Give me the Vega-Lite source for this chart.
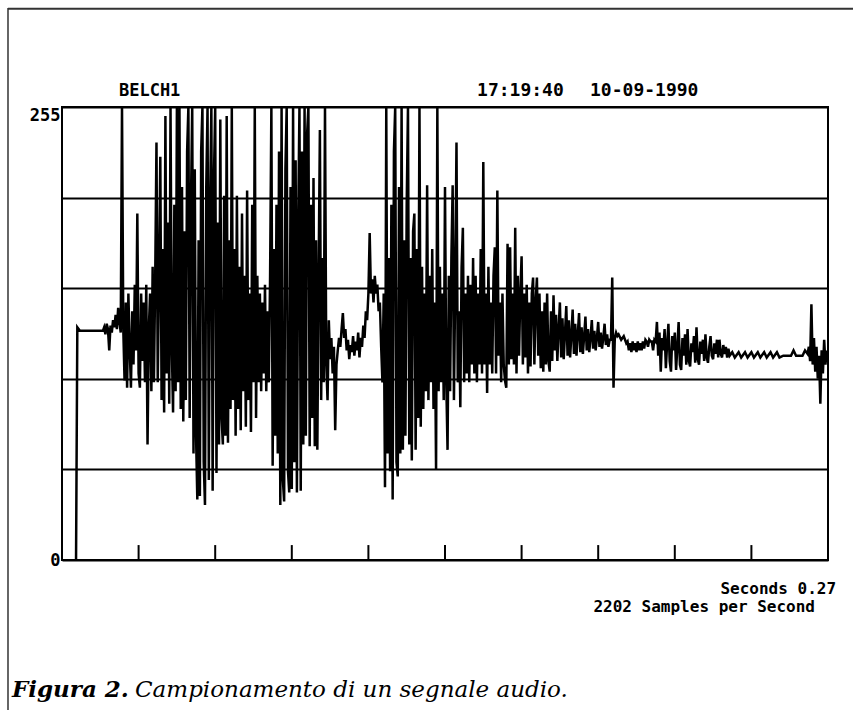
{
  "$schema": "https://vega.github.io/schema/vega-lite/v6.json",
  "width": 766,
  "height": 453,
  "autosize": {"type": "none"},
  "padding": {"left": 62, "top": 107, "right": 25, "bottom": 150},
  "background": "white",
  "config": {"view": {"stroke": "black", "strokeWidth": 2}},
  "datasets": {
    "one": [{}],
    "ticks": [{"t":60},{"t":120},{"t":180},{"t":240},{"t":300},{"t":360},{"t":420},{"t":480},{"t":540}],
    "wave": [
{"s":11,"v":0},{"s":12,"v":131},{"s":13,"v":130},{"s":14,"v":129},{"s":32,"v":129},{"s":33,"v":131},{"s":34,"v":127},{"s":35,"v":133},{"s":36,"v":130},{"s":37,"v":118},{"s":38,"v":132},{"s":39,"v":128},{"s":40,"v":135},{"s":41,"v":131},{"s":42,"v":138},{"s":43,"v":130},{"s":44,"v":142},{"s":45,"v":134},{"s":46,"v":128},{"s":47,"v":255},{"s":48,"v":130},{"s":49,"v":101},{"s":50,"v":145},{"s":51,"v":97},{"s":52,"v":150},{"s":53,"v":120},{"s":54,"v":97},{"s":55,"v":140},{"s":56,"v":110},{"s":57,"v":155},{"s":58,"v":118},{"s":59,"v":195},{"s":60,"v":105},{"s":61,"v":97},{"s":62,"v":150},{"s":63,"v":112},{"s":64,"v":145},{"s":65,"v":100},{"s":66,"v":155},{"s":67,"v":65},{"s":68,"v":130},{"s":69,"v":150},{"s":70,"v":95},{"s":71,"v":165},{"s":72,"v":100},{"s":73,"v":158},{"s":74,"v":235},{"s":75,"v":100},{"s":76,"v":160},{"s":77,"v":227},{"s":78,"v":90},{"s":79,"v":175},{"s":80,"v":83},{"s":81,"v":250},{"s":82,"v":105},{"s":83,"v":190},{"s":84,"v":88},{"s":85,"v":255},{"s":86,"v":120},{"s":87,"v":83},{"s":88,"v":200},{"s":89,"v":95},{"s":90,"v":255},{"s":91,"v":100},{"s":92,"v":255},{"s":93,"v":85},{"s":94,"v":210},{"s":95,"v":78},{"s":96,"v":185},{"s":97,"v":90},{"s":98,"v":230},{"s":99,"v":255},{"s":100,"v":80},{"s":101,"v":200},{"s":102,"v":255},{"s":103,"v":60},{"s":104,"v":220},{"s":105,"v":70},{"s":106,"v":34},{"s":107,"v":180},{"s":108,"v":36},{"s":109,"v":230},{"s":110,"v":255},{"s":111,"v":55},{"s":112,"v":31},{"s":113,"v":210},{"s":114,"v":255},{"s":115,"v":45},{"s":116,"v":200},{"s":117,"v":255},{"s":118,"v":39},{"s":119,"v":215},{"s":120,"v":255},{"s":121,"v":49},{"s":122,"v":190},{"s":123,"v":65},{"s":124,"v":248},{"s":125,"v":80},{"s":126,"v":65},{"s":127,"v":205},{"s":128,"v":70},{"s":129,"v":250},{"s":130,"v":66},{"s":131,"v":180},{"s":132,"v":85},{"s":133,"v":255},{"s":134,"v":90},{"s":135,"v":175},{"s":136,"v":70},{"s":137,"v":205},{"s":138,"v":85},{"s":139,"v":165},{"s":140,"v":73},{"s":141,"v":195},{"s":142,"v":95},{"s":143,"v":160},{"s":144,"v":75},{"s":145,"v":208},{"s":146,"v":90},{"s":147,"v":150},{"s":148,"v":72},{"s":149,"v":200},{"s":150,"v":100},{"s":151,"v":255},{"s":152,"v":80},{"s":153,"v":160},{"s":154,"v":100},{"s":155,"v":150},{"s":156,"v":95},{"s":157,"v":145},{"s":158,"v":105},{"s":159,"v":155},{"s":160,"v":95},{"s":161,"v":140},{"s":162,"v":100},{"s":163,"v":160},{"s":164,"v":255},{"s":165,"v":53},{"s":166,"v":175},{"s":167,"v":70},{"s":168,"v":200},{"s":169,"v":60},{"s":170,"v":230},{"s":171,"v":31},{"s":172,"v":255},{"s":173,"v":45},{"s":174,"v":33},{"s":175,"v":220},{"s":176,"v":255},{"s":177,"v":50},{"s":178,"v":38},{"s":179,"v":210},{"s":180,"v":40},{"s":181,"v":255},{"s":182,"v":55},{"s":183,"v":225},{"s":184,"v":38},{"s":185,"v":190},{"s":186,"v":255},{"s":187,"v":39},{"s":188,"v":230},{"s":189,"v":65},{"s":190,"v":255},{"s":191,"v":70},{"s":192,"v":240},{"s":193,"v":255},{"s":194,"v":64},{"s":195,"v":200},{"s":196,"v":80},{"s":197,"v":215},{"s":198,"v":64},{"s":199,"v":180},{"s":200,"v":62},{"s":201,"v":160},{"s":202,"v":242},{"s":203,"v":90},{"s":204,"v":170},{"s":205,"v":100},{"s":206,"v":255},{"s":207,"v":110},{"s":208,"v":90},{"s":209,"v":135},{"s":210,"v":113},{"s":211,"v":125},{"s":212,"v":105},{"s":213,"v":120},{"s":214,"v":73},{"s":215,"v":110},{"s":216,"v":118},{"s":217,"v":125},{"s":218,"v":120},{"s":219,"v":130},{"s":220,"v":139},{"s":221,"v":125},{"s":222,"v":130},{"s":223,"v":118},{"s":224,"v":124},{"s":225,"v":113},{"s":226,"v":121},{"s":227,"v":117},{"s":228,"v":126},{"s":229,"v":115},{"s":230,"v":123},{"s":231,"v":118},{"s":232,"v":128},{"s":233,"v":114},{"s":234,"v":125},{"s":235,"v":120},{"s":236,"v":132},{"s":237,"v":125},{"s":238,"v":140},{"s":239,"v":135},{"s":240,"v":150},{"s":241,"v":184},{"s":242,"v":150},{"s":243,"v":158},{"s":244,"v":145},{"s":245,"v":160},{"s":246,"v":150},{"s":247,"v":155},{"s":248,"v":140},{"s":249,"v":145},{"s":250,"v":120},{"s":251,"v":100},{"s":252,"v":150},{"s":253,"v":41},{"s":254,"v":255},{"s":255,"v":60},{"s":256,"v":170},{"s":257,"v":50},{"s":258,"v":200},{"s":259,"v":34},{"s":260,"v":230},{"s":261,"v":255},{"s":262,"v":55},{"s":263,"v":47},{"s":264,"v":210},{"s":265,"v":60},{"s":266,"v":255},{"s":267,"v":62},{"s":268,"v":180},{"s":269,"v":70},{"s":270,"v":200},{"s":271,"v":255},{"s":272,"v":65},{"s":273,"v":170},{"s":274,"v":56},{"s":275,"v":185},{"s":276,"v":195},{"s":277,"v":62},{"s":278,"v":175},{"s":279,"v":80},{"s":280,"v":255},{"s":281,"v":75},{"s":282,"v":165},{"s":283,"v":85},{"s":284,"v":150},{"s":285,"v":95},{"s":286,"v":211},{"s":287,"v":90},{"s":288,"v":160},{"s":289,"v":100},{"s":290,"v":175},{"s":291,"v":85},{"s":292,"v":145},{"s":293,"v":51},{"s":294,"v":255},{"s":295,"v":95},{"s":296,"v":165},{"s":297,"v":100},{"s":298,"v":150},{"s":299,"v":90},{"s":300,"v":210},{"s":301,"v":100},{"s":302,"v":62},{"s":303,"v":160},{"s":304,"v":95},{"s":305,"v":170},{"s":306,"v":211},{"s":307,"v":90},{"s":308,"v":155},{"s":309,"v":235},{"s":310,"v":100},{"s":311,"v":140},{"s":312,"v":86},{"s":313,"v":165},{"s":314,"v":187},{"s":315,"v":100},{"s":316,"v":150},{"s":317,"v":105},{"s":318,"v":160},{"s":319,"v":100},{"s":320,"v":155},{"s":321,"v":110},{"s":322,"v":170},{"s":323,"v":105},{"s":324,"v":160},{"s":325,"v":100},{"s":326,"v":150},{"s":327,"v":110},{"s":328,"v":175},{"s":329,"v":105},{"s":330,"v":224},{"s":331,"v":110},{"s":332,"v":150},{"s":333,"v":94},{"s":334,"v":165},{"s":335,"v":110},{"s":336,"v":145},{"s":337,"v":105},{"s":338,"v":160},{"s":339,"v":176},{"s":340,"v":105},{"s":341,"v":208},{"s":342,"v":115},{"s":343,"v":145},{"s":344,"v":100},{"s":345,"v":150},{"s":346,"v":110},{"s":347,"v":101},{"s":348,"v":97},{"s":349,"v":178},{"s":350,"v":110},{"s":351,"v":176},{"s":352,"v":113},{"s":353,"v":150},{"s":354,"v":110},{"s":355,"v":187},{"s":356,"v":105},{"s":357,"v":160},{"s":358,"v":115},{"s":359,"v":150},{"s":360,"v":171},{"s":361,"v":110},{"s":362,"v":150},{"s":363,"v":114},{"s":364,"v":155},{"s":365,"v":105},{"s":366,"v":145},{"s":367,"v":109},{"s":368,"v":150},{"s":369,"v":159},{"s":370,"v":110},{"s":371,"v":145},{"s":372,"v":159},{"s":373,"v":115},{"s":374,"v":150},{"s":375,"v":108},{"s":376,"v":140},{"s":377,"v":106},{"s":378,"v":145},{"s":379,"v":110},{"s":380,"v":150},{"s":381,"v":112},{"s":382,"v":106},
{"s":383,"v":140},{"s":384,"v":112},{"s":385,"v":149},{"s":386,"v":118},{"s":387,"v":138},{"s":388,"v":112},{"s":389,"v":130},{"s":390,"v":145},{"s":391,"v":114},{"s":392,"v":136},{"s":393,"v":113},{"s":394,"v":128},{"s":395,"v":143},{"s":396,"v":115},{"s":397,"v":135},{"s":398,"v":114},{"s":399,"v":127},{"s":400,"v":141},{"s":401,"v":116},{"s":402,"v":133},{"s":403,"v":115},{"s":404,"v":127},{"s":405,"v":139},{"s":406,"v":117},{"s":407,"v":131},{"s":408,"v":116},{"s":409,"v":126},{"s":410,"v":137},{"s":411,"v":118},{"s":412,"v":130},{"s":413,"v":117},{"s":414,"v":125},{"s":415,"v":135},{"s":416,"v":119},{"s":417,"v":129},{"s":418,"v":118},{"s":419,"v":125},{"s":420,"v":134},{"s":421,"v":120},{"s":422,"v":128},{"s":423,"v":119},{"s":424,"v":125},{"s":425,"v":133},{"s":426,"v":121},{"s":427,"v":127},{"s":428,"v":120},{"s":429,"v":124},{"s":430,"v":124},{"s":431,"v":159},{"s":432,"v":97},{"s":433,"v":125},{"s":434,"v":128},{"s":435,"v":126},{"s":436,"v":127},{"s":438,"v":124},{"s":440,"v":126},{"s":442,"v":122},{"s":443,"v":123},{"s":444,"v":118},{"s":445,"v":122},{"s":446,"v":117},{"s":447,"v":123},{"s":448,"v":118},{"s":449,"v":122},{"s":450,"v":117},{"s":451,"v":123},{"s":452,"v":118},{"s":453,"v":122},{"s":454,"v":118},{"s":455,"v":123},{"s":456,"v":119},{"s":457,"v":124},{"s":458,"v":123},{"s":459,"v":120},{"s":460,"v":124},{"s":461,"v":123},{"s":462,"v":123},{"s":463,"v":118},{"s":464,"v":124},{"s":465,"v":123},{"s":466,"v":134},{"s":467,"v":115},{"s":468,"v":128},{"s":469,"v":106},{"s":470,"v":125},{"s":471,"v":118},{"s":472,"v":130},{"s":473,"v":108},{"s":474,"v":122},{"s":475,"v":133},{"s":476,"v":112},{"s":477,"v":106},{"s":478,"v":126},{"s":479,"v":118},{"s":480,"v":128},{"s":481,"v":107},{"s":482,"v":120},{"s":483,"v":134},{"s":484,"v":110},{"s":485,"v":107},{"s":486,"v":125},{"s":487,"v":115},{"s":488,"v":127},{"s":489,"v":110},{"s":490,"v":130},{"s":491,"v":112},{"s":492,"v":109},{"s":493,"v":122},{"s":494,"v":117},{"s":495,"v":126},{"s":496,"v":111},{"s":497,"v":131},{"s":498,"v":113},{"s":499,"v":110},{"s":500,"v":123},{"s":501,"v":116},{"s":502,"v":124},{"s":503,"v":112},{"s":504,"v":127},{"s":505,"v":114},{"s":506,"v":111},{"s":507,"v":120},{"s":508,"v":126},{"s":509,"v":115},{"s":510,"v":113},{"s":511,"v":122},{"s":512,"v":116},{"s":513,"v":124},{"s":514,"v":114},{"s":515,"v":124},{"s":516,"v":116},{"s":517,"v":114},{"s":518,"v":121},{"s":519,"v":116},{"s":520,"v":120},{"s":521,"v":114},{"s":522,"v":119},{"s":523,"v":115},{"s":525,"v":117},{"s":527,"v":114},{"s":530,"v":117},{"s":532,"v":114},{"s":535,"v":117},{"s":537,"v":114},{"s":540,"v":117},{"s":542,"v":114},{"s":545,"v":117},{"s":547,"v":114},{"s":550,"v":117},{"s":552,"v":114},{"s":555,"v":117},{"s":557,"v":114},{"s":560,"v":117},{"s":562,"v":114},{"s":565,"v":115},{"s":571,"v":115},{"s":573,"v":118},{"s":575,"v":115},{"s":580,"v":115},{"s":582,"v":118},{"s":584,"v":116},{"s":585,"v":120},{"s":586,"v":112},{"s":587,"v":144},{"s":588,"v":110},{"s":589,"v":125},{"s":590,"v":106},{"s":591,"v":120},{"s":592,"v":102},{"s":593,"v":115},{"s":594,"v":88},{"s":595,"v":118},{"s":596,"v":105},{"s":597,"v":124},{"s":598,"v":110},{"s":599,"v":118}
    ]
  },
  "layer": [
    {
      "data": {"name": "wave"},
      "mark": {"type": "line", "color": "black", "strokeWidth": 2.5, "clip": true},
      "encoding": {
        "x": {"field": "s", "type": "quantitative", "scale": {"domain": [0, 600], "nice": false, "zero": false},
              "axis": {"labels": false, "ticks": false, "domain": false, "grid": false, "title": null}},
        "y": {"field": "v", "type": "quantitative", "scale": {"domain": [0, 255], "nice": false},
              "axis": {"values": [0, 51, 102, 153, 204, 255], "grid": true, "gridColor": "black", "gridWidth": 2, "gridOpacity": 1,
                       "labelExpr": "datum.value == 0 || datum.value == 255 ? datum.label : ''",
                       "ticks": false, "domain": false, "title": null,
                       "labelFont": "DejaVu Sans Mono", "labelFontWeight": "bold", "labelFontSize": 17, "labelColor": "black", "labelPadding": 2,
                       "labelBaseline": {"condition": {"test": "datum.value == 255", "value": "top"}, "value": "middle"}}}
      }
    },
    {
      "data": {"name": "ticks"},
      "mark": {"type": "rule", "color": "black", "strokeWidth": 2},
      "encoding": {"x": {"field": "t", "type": "quantitative"}, "y": {"datum": 0}, "y2": {"datum": 8.4}}
    },
    {
      "data": {"name": "one"},
      "mark": {"type": "rule", "color": "#333333", "strokeWidth": 1.5},
      "encoding": {"x": {"datum": -42.3}, "y": {"datum": 310.7}, "y2": {"datum": -85}}
    },
    {
      "data": {"name": "one"},
      "mark": {"type": "rule", "color": "#333333", "strokeWidth": 2},
      "encoding": {"x": {"datum": -42.3}, "x2": {"datum": 620}, "y": {"datum": 310.3}}
    },
    {
      "data": {"name": "one"},
      "mark": {"type": "text", "text": "BELCH1", "font": "DejaVu Sans Mono", "fontWeight": "bold", "fontSize": 17, "align": "left", "baseline": "alphabetic", "color": "black"},
      "encoding": {"x": {"datum": 44.6}, "y": {"datum": 261.2}}
    },
    {
      "data": {"name": "one"},
      "mark": {"type": "text", "text": "17:19:40", "font": "DejaVu Sans Mono", "fontWeight": "bold", "fontSize": 18, "align": "left", "baseline": "alphabetic", "color": "black"},
      "encoding": {"x": {"datum": 325.1}, "y": {"datum": 261.2}}
    },
    {
      "data": {"name": "one"},
      "mark": {"type": "text", "text": "10-09-1990", "font": "DejaVu Sans Mono", "fontWeight": "bold", "fontSize": 18, "align": "left", "baseline": "alphabetic", "color": "black"},
      "encoding": {"x": {"datum": 413.6}, "y": {"datum": 261.2}}
    },
    {
      "data": {"name": "one"},
      "mark": {"type": "text", "text": "Seconds 0.27", "font": "DejaVu Sans Mono", "fontWeight": "bold", "fontSize": 16, "align": "right", "baseline": "alphabetic", "color": "black"},
      "encoding": {"x": {"datum": 606.3}, "y": {"datum": -19.1}}
    },
    {
      "data": {"name": "one"},
      "mark": {"type": "text", "text": "2202  Samples per Second", "font": "DejaVu Sans Mono", "fontWeight": "bold", "fontSize": 16, "align": "right", "baseline": "alphabetic", "color": "black"},
      "encoding": {"x": {"datum": 589.8}, "y": {"datum": -29.3}}
    },
    {
      "data": {"name": "one"},
      "mark": {"type": "text", "text": "Figura 2.", "font": "DejaVu Serif", "fontStyle": "italic", "fontWeight": "bold", "fontSize": 23, "align": "left", "baseline": "alphabetic", "color": "black"},
      "encoding": {"x": {"datum": -39.2}, "y": {"datum": -77.1}}
    },
    {
      "data": {"name": "one"},
      "mark": {"type": "text", "text": "Campionamento di un segnale audio.", "font": "DejaVu Serif", "fontStyle": "italic", "fontSize": 23, "align": "left", "baseline": "alphabetic", "color": "black"},
      "encoding": {"x": {"datum": 57.2}, "y": {"datum": -77.1}}
    }
  ]
}
